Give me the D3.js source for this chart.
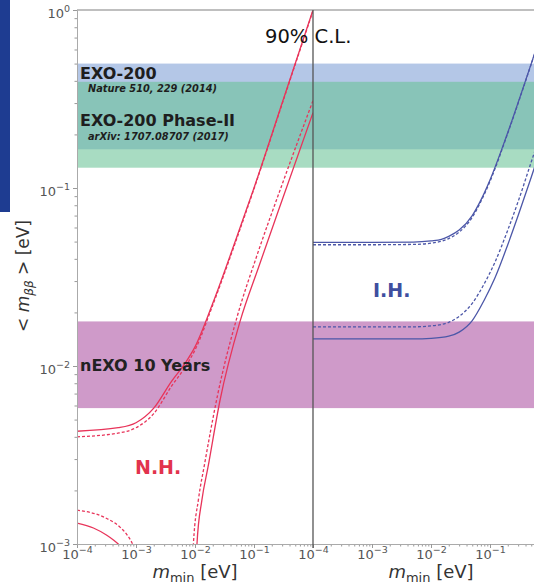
<!DOCTYPE html>
<html>
<head>
<meta charset="utf-8">
<script src="https://cdn.jsdelivr.net/npm/d3@7"></script>
<style>
  body { margin: 0; background: #fff; }
  text { font-family: "DejaVu Sans", sans-serif; }
</style>
</head>
<body>
<svg id="chart"></svg>
<script>
const width = 534
const height = 584

// experimental limits on <m_bb> [eV]
const exo200Band = [0.165, 0.50]
const phase2Band = [0.13, 0.395]
const nexoBand = [0.0058, 0.0178]

const xDecades = [1e-4, 1e-3, 1e-2, 1e-1]
const yDecades = [1e-3, 1e-2, 1e-1, 1]

// normal hierarchy, [m_min, <m_bb>]
const nhUpperSolid = [[1e-4, 0.0043], [5e-4, 0.0045], [1e-3, 0.0048], [2e-3, 0.0058], [4e-3, 0.0082],
  [7e-3, 0.0105], [0.01, 0.0128], [0.02, 0.0225], [0.05, 0.052], [0.1, 0.1], [0.3, 0.3], [1, 1]]
const nhUpperDashed = [[1e-4, 0.0040], [5e-4, 0.0042], [1e-3, 0.0045], [2e-3, 0.0054], [4e-3, 0.0077],
  [7e-3, 0.0100], [0.01, 0.0123], [0.02, 0.022], [0.05, 0.051], [0.1, 0.099], [0.3, 0.297], [1, 0.99]]
const nhLowerSolid = [[0.0105, 0.0008], [0.0108, 0.001], [0.0131, 0.00177], [0.0166, 0.0027], [0.0265, 0.0064],
  [0.058, 0.0178], [0.12, 0.036], [0.335, 0.095], [1, 0.265]]
const nhLowerDashed = [[0.0091, 0.0008], [0.0094, 0.001], [0.0115, 0.0018], [0.0145, 0.0028], [0.024, 0.0068],
  [0.052, 0.019], [0.11, 0.041], [0.31, 0.108], [1, 0.31]]
const nhArcSolid = [[1e-4, 0.00131], [1.9e-4, 0.00123], [3.2e-4, 0.00112], [4.2e-4, 0.00105], [5e-4, 0.001], [6e-4, 0.00094]]
const nhArcDashed = [[1e-4, 0.00155], [2.8e-4, 0.00142], [5.4e-4, 0.00124], [7e-4, 0.00113], [8.5e-4, 0.00102], [1e-3, 0.0009]]

// inverted hierarchy
const ihUpperSolid = [[1e-4, 0.0495], [1e-3, 0.0495], [5e-3, 0.0497], [0.01, 0.0505], [0.015, 0.0515], [0.02, 0.0535],
  [0.03, 0.058], [0.05, 0.07], [0.07, 0.0855], [0.1, 0.111], [0.2, 0.205], [0.5, 0.5], [1, 1]]
const ihUpperDashed = [[1e-4, 0.048], [1e-3, 0.048], [5e-3, 0.0482], [0.01, 0.049], [0.015, 0.0502], [0.02, 0.052],
  [0.03, 0.0565], [0.05, 0.0685], [0.07, 0.084], [0.1, 0.109], [0.2, 0.203], [0.5, 0.497], [1, 0.995]]
const ihLowerDashed = [[1e-4, 0.0166], [5e-3, 0.0166], [0.01, 0.0168], [0.015, 0.0171], [0.02, 0.0176], [0.03, 0.019],
  [0.05, 0.0225], [0.08, 0.029], [0.12, 0.038], [0.2, 0.058], [0.3, 0.084], [0.5, 0.14], [1, 0.28]]
const ihLowerSolid = [[1e-4, 0.0142], [5e-3, 0.0142], [0.01, 0.0143], [0.02, 0.0147], [0.03, 0.0155], [0.05, 0.018],
  [0.08, 0.0235], [0.12, 0.031], [0.2, 0.048], [0.3, 0.07], [0.5, 0.115], [1, 0.23]]

const red = '#e8345a'
const blue = '#4c57a8'

const svg = d3.select('#chart').attr('width', width).attr('height', height)

// the blue strip at the left edge of the slide
svg.append('rect').attr('x', 0).attr('y', 0).attr('width', 10).attr('height', 212).attr('fill', '#1e3c91')

const y = d3.scaleLog().domain([1e-3, 1]).range([544, 10])
const xLeft = d3.scaleLog().domain([1e-4, 1]).range([77, 313])
const xRight = d3.scaleLog().domain([1e-4, 1]).range([313, 549])

const x0 = xLeft.range()[0]
const x1 = xRight.range()[1]

// bands
svg.append('rect')
  .attr('x', x0).attr('width', x1 - x0)
  .attr('y', y(exo200Band[1])).attr('height', y(exo200Band[0]) - y(exo200Band[1]))
  .attr('fill', '#b4c7e7')
svg.append('rect')
  .attr('x', x0).attr('width', x1 - x0)
  .attr('y', y(phase2Band[1])).attr('height', y(phase2Band[0]) - y(phase2Band[1]))
  .attr('fill', 'rgb(105,195,150)').attr('fill-opacity', 0.58)
svg.append('rect')
  .attr('x', x0).attr('width', x1 - x0)
  .attr('y', y(nexoBand[1])).attr('height', y(nexoBand[0]) - y(nexoBand[1]))
  .attr('fill', '#cf9ac9')

// clip each panel
const defs = svg.append('defs')
defs.append('clipPath').attr('id', 'clipL').append('rect')
  .attr('x', 77).attr('y', 10).attr('width', 236).attr('height', 534)
defs.append('clipPath').attr('id', 'clipR').append('rect')
  .attr('x', 313).attr('y', 10).attr('width', 236).attr('height', 534)

function drawCurve(data, xs, clip, color, dashed) {
  const line = d3.line()
    .x(d => xs(d[0]))
    .y(d => y(d[1]))
    .curve(d3.curveMonotoneX)
  svg.append('path')
    .datum(data)
    .attr('d', line)
    .attr('clip-path', 'url(#' + clip + ')')
    .attr('fill', 'none')
    .attr('stroke', color)
    .attr('stroke-width', 1.3)
    .attr('stroke-dasharray', dashed ? '3,2' : null)
}

drawCurve(nhUpperSolid, xLeft, 'clipL', red, false)
drawCurve(nhUpperDashed, xLeft, 'clipL', red, true)
drawCurve(nhLowerSolid, xLeft, 'clipL', red, false)
drawCurve(nhLowerDashed, xLeft, 'clipL', red, true)
drawCurve(nhArcSolid, xLeft, 'clipL', red, false)
drawCurve(nhArcDashed, xLeft, 'clipL', red, true)

drawCurve(ihUpperSolid, xRight, 'clipR', blue, false)
drawCurve(ihUpperDashed, xRight, 'clipR', blue, true)
drawCurve(ihLowerSolid, xRight, 'clipR', blue, false)
drawCurve(ihLowerDashed, xRight, 'clipR', blue, true)

// axes
const exps = { '0.0001': '\u22124', '0.001': '\u22123', '0.01': '\u22122', '0.1': '\u22121', '1': '0' }

function power(textSel) {
  textSel.text(null).each(function (d) {
    const t = d3.select(this)
    t.append('tspan').text('10')
    t.append('tspan').attr('dy', -6).attr('font-size', '9.5px').text(exps[String(d)])
  })
}

function styleAxis(g) {
  g.attr('font-family', 'DejaVu Sans').attr('font-size', 13)
  g.selectAll('.domain').attr('stroke', '#aaa')
  g.selectAll('.tick line').attr('stroke', '#999')
  g.selectAll('.tick text').attr('fill', '#555')
}

const minorX = xLeft.ticks().filter(d => !xDecades.includes(d) && d < 1)
const minorY = y.ticks().filter(d => !yDecades.includes(d))

;[xLeft, xRight].forEach(xs => {
  const gMinor = svg.append('g').attr('transform', 'translate(0,544)')
    .call(d3.axisBottom(xs).tickValues(minorX).tickSize(2.5).tickSizeOuter(0).tickFormat(''))
  styleAxis(gMinor)
  const g = svg.append('g').attr('transform', 'translate(0,544)')
    .call(d3.axisBottom(xs).tickValues(xDecades).tickSize(4).tickSizeOuter(0))
  styleAxis(g)
  g.selectAll('.tick text').attr('y', 15).attr('dy', 0).call(power)
})

const gyMinor = svg.append('g').attr('transform', 'translate(77,0)')
  .call(d3.axisLeft(y).tickValues(minorY).tickSize(2.5).tickSizeOuter(0).tickFormat(''))
styleAxis(gyMinor)
const gy = svg.append('g').attr('transform', 'translate(77,0)')
  .call(d3.axisLeft(y).tickValues(yDecades).tickSize(4).tickSizeOuter(0))
styleAxis(gy)
gy.selectAll('.tick text').attr('x', -7).attr('dy', '0.55em').call(power)

// top spine and panel divider
svg.append('line').attr('x1', 77).attr('x2', x1).attr('y1', 10).attr('y2', 10)
  .attr('stroke', '#aaa').attr('stroke-width', 1.5)
svg.append('line').attr('x1', 313).attr('x2', 313).attr('y1', 10).attr('y2', 548)
  .attr('stroke', '#555').attr('stroke-width', 1.3)

// band labels
function label(x, yy, str, size, opts) {
  return svg.append('text').attr('x', x).attr('y', yy)
    .attr('font-size', size).attr('font-weight', 'bold')
    .attr('font-style', opts && opts.italic ? 'italic' : null)
    .attr('fill', (opts && opts.color) || '#1e1e1e')
    .text(str)
}
label(80, 78.5, 'EXO-200', '16px')
label(88, 91.5, 'Nature 510, 229 (2014)', '9.8px', { italic: true })
label(80, 126, 'EXO-200 Phase-II', '16px')
label(88, 139.5, 'arXiv: 1707.08707 (2017)', '9.8px', { italic: true })
label(80, 371, 'nEXO 10 Years', '16px', { color: '#222' })
label(135, 474, 'N.H.', '19px', { color: '#e2334d' })
label(373, 297, 'I.H.', '19px', { color: '#3f4f9f' })

svg.append('text').attr('x', 265).attr('y', 43)
  .attr('font-family', 'Lato, sans-serif').attr('font-size', '19.5px').attr('fill', '#111')
  .text('90% C.L.')

// axis titles
;[xLeft, xRight].forEach(xs => {
  const t = svg.append('text').attr('x', xs(0.01)).attr('y', 578)
    .attr('text-anchor', 'middle').attr('font-size', '18px').attr('fill', '#333')
  t.append('tspan').attr('font-style', 'italic').text('m')
  t.append('tspan').attr('font-size', '13px').attr('dy', 4).text('min')
  t.append('tspan').attr('dy', -4).text(' [eV]')
})

const yt = svg.append('text').attr('transform', 'translate(29,276) rotate(-90)')
  .attr('text-anchor', 'middle').attr('font-size', '17px').attr('fill', '#333')
yt.append('tspan').text('< ')
yt.append('tspan').attr('font-style', 'italic').text('m')
yt.append('tspan').attr('font-style', 'italic').attr('font-size', '12px').attr('dy', 4).text('\u03b2\u03b2')
yt.append('tspan').attr('dy', -4).text(' > [eV]')
</script>
</body>
</html>
